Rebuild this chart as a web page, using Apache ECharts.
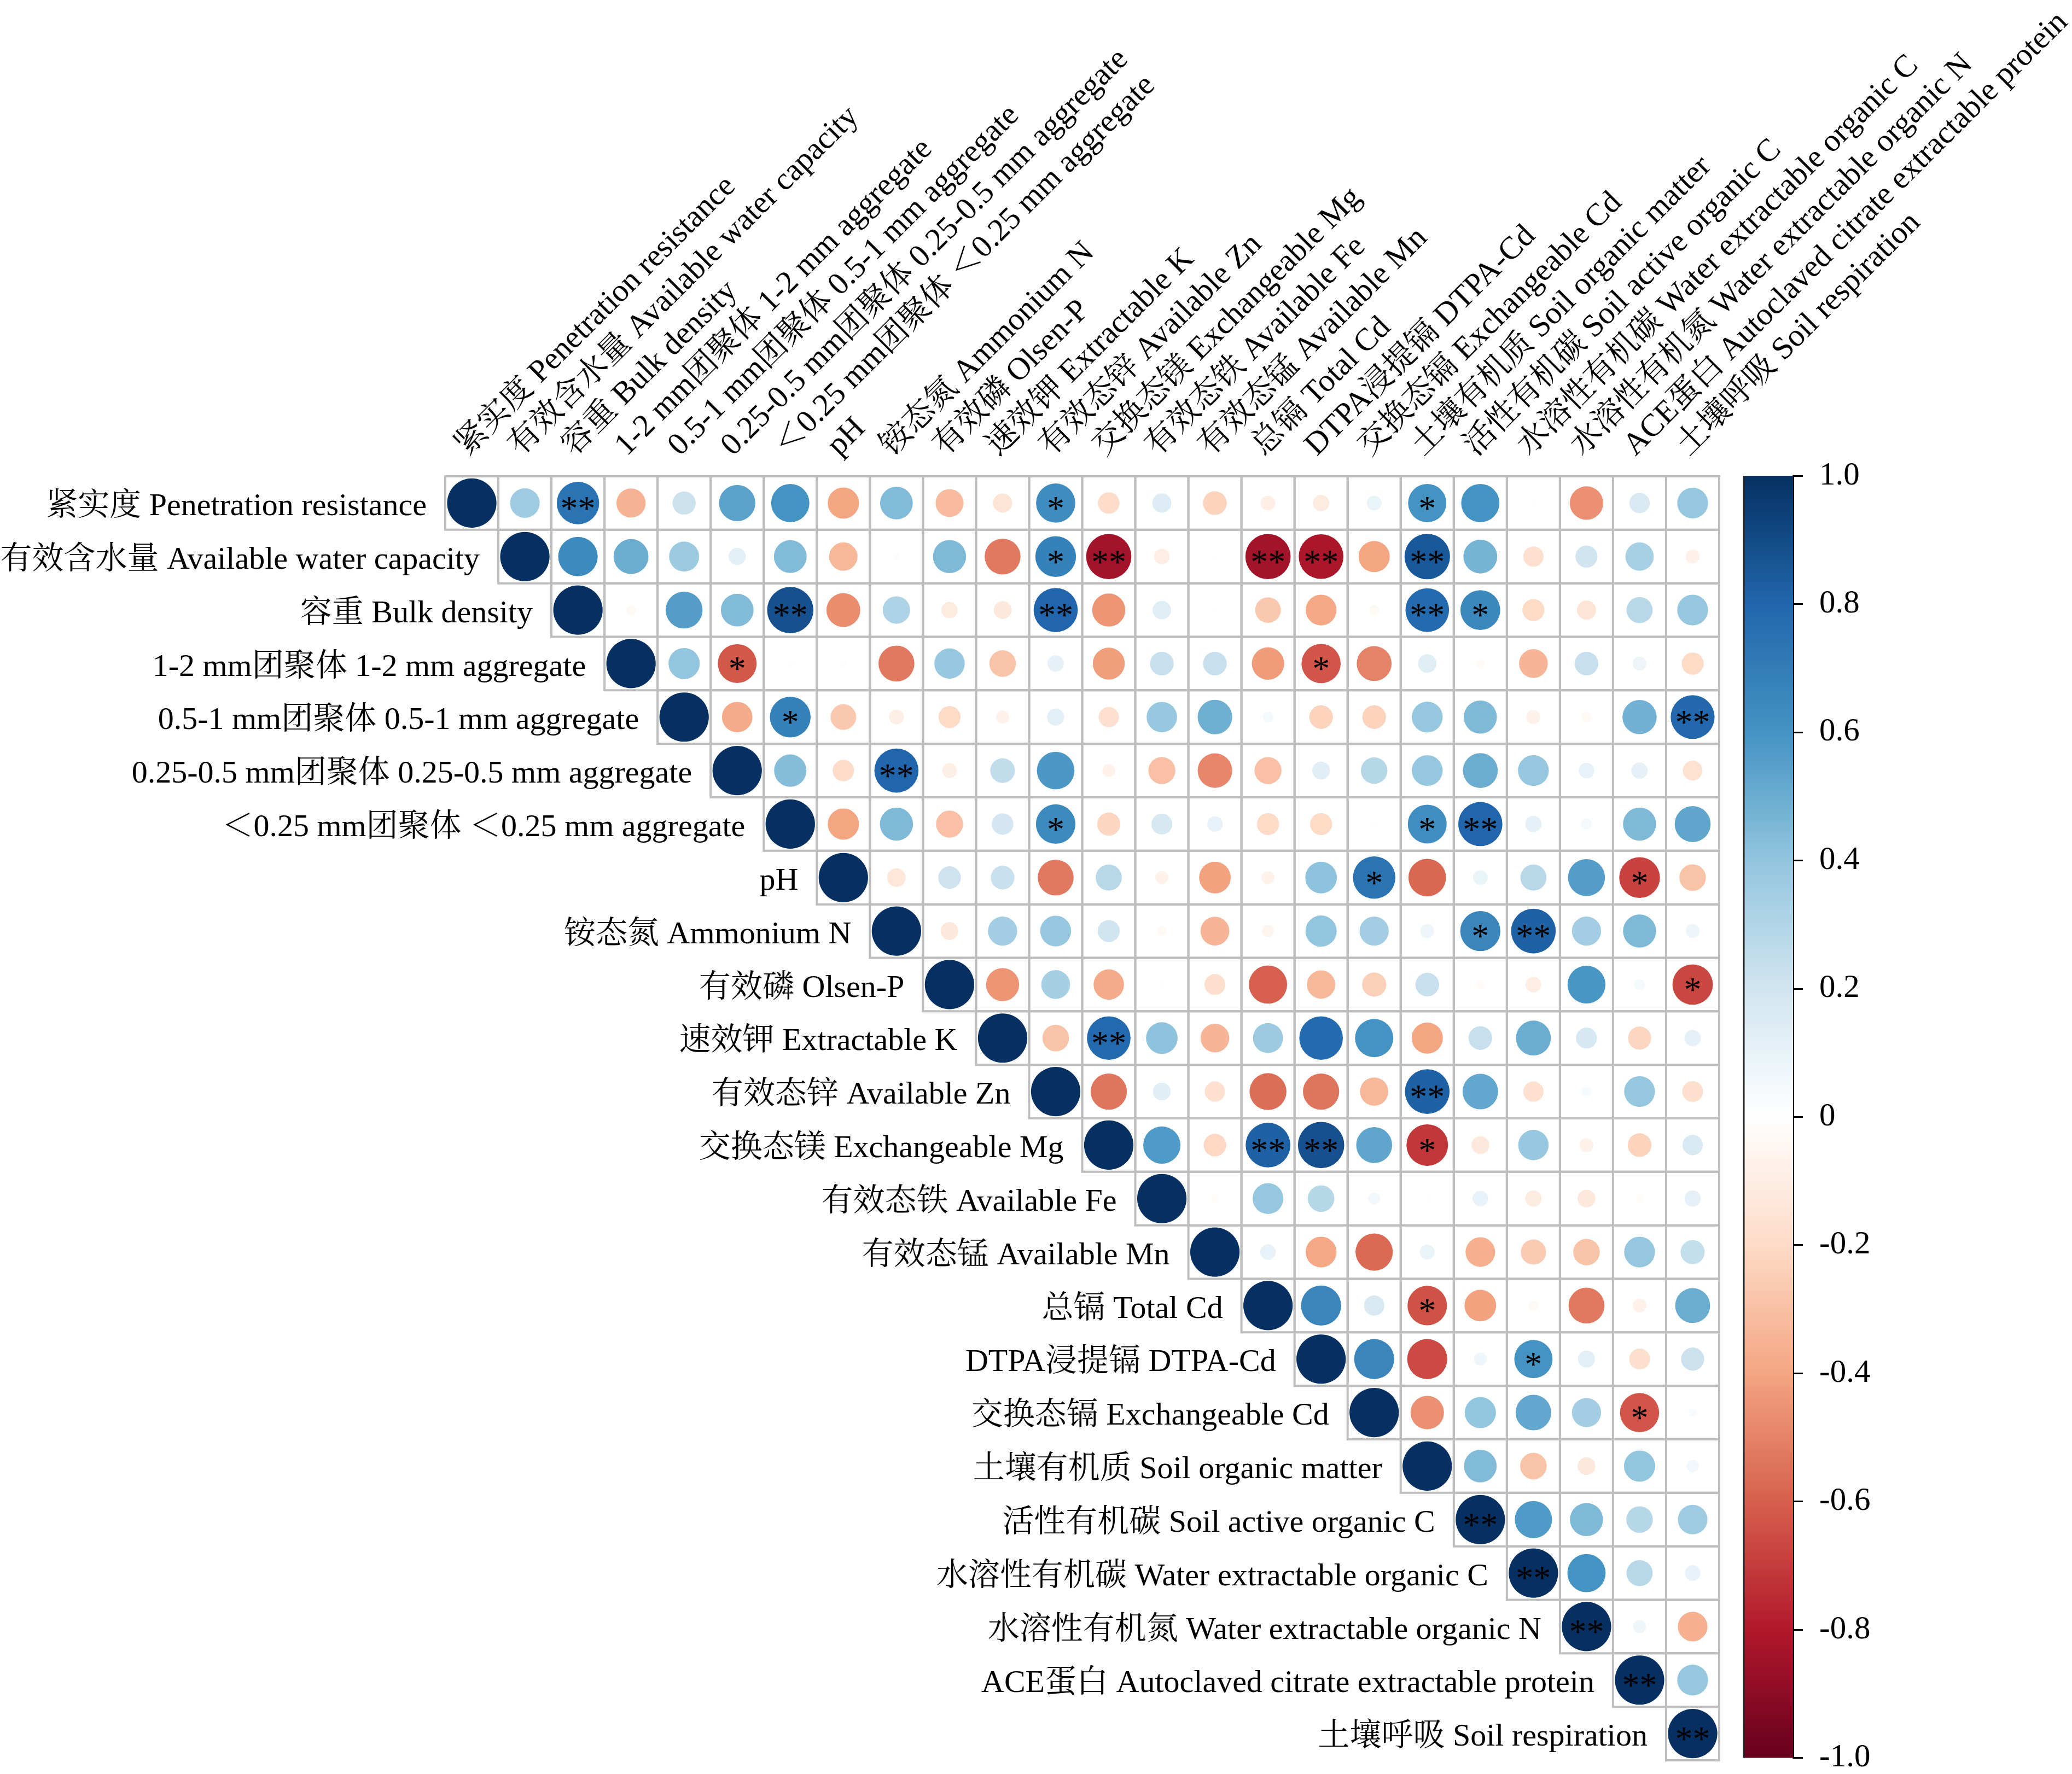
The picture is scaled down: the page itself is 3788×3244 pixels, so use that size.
<!DOCTYPE html>
<html><head><meta charset="utf-8">
<script src="https://cdn.jsdelivr.net/npm/echarts/dist/echarts.min.js"></script>
<style>html,body{margin:0;padding:0;background:#fff}#c{width:3788px;height:3244px}</style>
</head><body><div id="c"></div>
<script>
// ---------------- DATA ----------------
const variables = [
  '紧实度 Penetration resistance',
  '有效含水量 Available water capacity',
  '容重 Bulk density',
  '1-2 mm团聚体 1-2 mm aggregate',
  '0.5-1 mm团聚体 0.5-1 mm aggregate',
  '0.25-0.5 mm团聚体 0.25-0.5 mm aggregate',
  '＜0.25 mm团聚体 ＜0.25 mm aggregate',
  'pH',
  '铵态氮 Ammonium N',
  '有效磷 Olsen-P',
  '速效钾 Extractable K',
  '有效态锌 Available Zn',
  '交换态镁 Exchangeable Mg',
  '有效态铁 Available Fe',
  '有效态锰 Available Mn',
  '总镉 Total Cd',
  'DTPA浸提镉 DTPA-Cd',
  '交换态镉 Exchangeable Cd',
  '土壤有机质 Soil organic matter',
  '活性有机碳 Soil active organic C',
  '水溶性有机碳 Water extractable organic C',
  '水溶性有机氮 Water extractable organic N',
  'ACE蛋白 Autoclaved citrate extractable protein',
  '土壤呼吸 Soil respiration'
];
// upper-triangle correlations: row i lists columns i+1 .. 24
const row01 = [0.36, 0.74, -0.35, 0.22, 0.54, 0.60, -0.40, 0.44, -0.32, -0.15, 0.63, -0.19, 0.15, -0.23, -0.09, -0.11, 0.09, 0.60, 0.60, 0.01, -0.46, 0.17, 0.39];
const row02 = [0.64, 0.50, 0.37, 0.12, 0.44, -0.33, 0.02, 0.45, -0.53, 0.68, -0.84, -0.10, 0.01, -0.84, -0.82, -0.40, 0.85, 0.47, -0.17, 0.20, 0.33, -0.08];
const row03 = [-0.04, 0.56, 0.44, 0.88, -0.47, 0.31, -0.11, -0.13, 0.80, -0.45, 0.14, 0.01, -0.27, -0.39, -0.04, 0.78, 0.65, -0.20, -0.15, 0.28, 0.39];
const row04 = [0.40, -0.62, 0.015, 0.015, -0.53, 0.38, -0.29, 0.11, -0.42, 0.23, 0.23, -0.43, -0.63, -0.50, 0.14, -0.03, -0.34, 0.23, 0.08, -0.20];
const row05 = [-0.38, 0.68, -0.27, -0.09, -0.20, -0.07, 0.12, -0.17, 0.38, 0.49, 0.05, -0.23, -0.23, 0.39, 0.45, -0.08, -0.04, 0.48, 0.79];
const row06 = [0.43, -0.19, 0.80, -0.09, 0.25, 0.58, -0.07, -0.30, -0.49, -0.30, 0.13, 0.29, 0.39, 0.50, 0.39, 0.10, 0.11, -0.16];
const row07 = [-0.40, 0.45, -0.30, 0.19, 0.64, -0.22, 0.18, 0.10, -0.20, -0.20, 0.01, 0.62, 0.80, 0.11, 0.05, 0.45, 0.53];
const row08 = [-0.14, 0.21, 0.23, -0.53, 0.28, -0.07, -0.41, -0.07, 0.41, 0.74, -0.58, 0.09, 0.28, 0.56, -0.68, -0.29];
const row09 = [-0.13, 0.35, 0.39, 0.20, -0.04, -0.34, -0.06, 0.40, 0.35, 0.08, 0.66, 0.82, 0.35, 0.45, 0.08];
const row10 = [-0.45, 0.34, -0.38, 0.01, -0.18, -0.60, -0.33, -0.24, 0.23, -0.03, -0.10, 0.59, 0.05, -0.67];
const row11 = [-0.29, 0.78, 0.41, -0.34, 0.37, 0.78, 0.60, -0.40, 0.23, 0.50, 0.18, -0.22, 0.11];
const row12 = [-0.54, 0.13, -0.17, -0.56, -0.54, -0.33, 0.82, 0.52, -0.17, 0.04, 0.39, -0.18];
const row13 = [0.57, -0.21, 0.82, 0.88, 0.53, -0.71, -0.13, 0.38, -0.08, -0.23, 0.17];
const row14 = [-0.02, 0.39, 0.29, 0.06, 0.01, 0.10, -0.11, -0.13, -0.02, 0.11];
const row15 = [0.10, -0.39, -0.57, 0.09, -0.36, -0.26, -0.29, 0.39, 0.24];
const row16 = [0.66, 0.17, -0.64, -0.41, -0.04, -0.53, -0.08, 0.50];
const row17 = [0.66, -0.66, 0.07, 0.60, 0.12, -0.18, 0.22];
const row18 = [-0.46, 0.40, 0.52, 0.35, -0.63, 0.03];
const row19 = [0.44, -0.29, -0.13, 0.40, 0.06];
const row20 = [0.57, 0.45, 0.29, 0.36];
const row21 = [0.60, 0.28, 0.10];
const row22 = [0.07, -0.36];
const row23 = [0.39];
const row24 = [];
// significance marks: [row, column] (1-based), mark
const significance = [
  [1,3,'**'],[1,12,'*'],[1,19,'*'],
  [2,12,'*'],[2,13,'**'],[2,16,'**'],[2,17,'**'],[2,19,'**'],
  [3,7,'**'],[3,12,'**'],[3,19,'**'],[3,20,'*'],
  [4,6,'*'],[4,17,'*'],
  [5,7,'*'],[5,24,'**'],
  [6,9,'**'],
  [7,12,'*'],[7,19,'*'],[7,20,'**'],
  [8,18,'*'],[8,23,'*'],
  [9,20,'*'],[9,21,'**'],
  [10,24,'*'],
  [11,13,'**'],
  [12,19,'**'],
  [13,16,'**'],[13,17,'**'],[13,19,'*'],
  [16,19,'*'],
  [17,21,'*'],
  [18,23,'*'],
  [20,20,'**'],[21,21,'**'],[22,22,'**'],[23,23,'**'],[24,24,'**']
];
const colorbarTicks = [-1, -0.8, -0.6, -0.4, -0.2, 0, 0.2, 0.4, 0.6, 0.8, 1];

// ---------------- BUILD ----------------
const rows = [row01,row02,row03,row04,row05,row06,row07,row08,row09,row10,row11,row12,
              row13,row14,row15,row16,row17,row18,row19,row20,row21,row22,row23,row24];
const N = variables.length;
const sigMap = {};
significance.forEach(s => { sigMap[(s[0]-1)+'_'+(s[1]-1)] = s[2]; });
const cellData = [];
for (let i = 0; i < N; i++) {
  for (let j = i; j < N; j++) {
    const v = i === j ? 1 : rows[i][j - i - 1];
    cellData.push([j, i, v, sigMap[i+'_'+j] || '']);
  }
}
const RdBu = ['#67001F','#B2182B','#D6604D','#F4A582','#FDDBC7','#FFFFFF','#D1E5F0','#92C5DE','#4393C3','#2166AC','#053061'];
function hex2rgb(h){return [parseInt(h.slice(1,3),16),parseInt(h.slice(3,5),16),parseInt(h.slice(5,7),16)];}
function colorOf(v){
  const t = (Math.max(-1, Math.min(1, v)) + 1) / 2 * 10;
  const i = Math.min(9, Math.floor(t)); const f = t - i;
  const a = hex2rgb(RdBu[i]), b = hex2rgb(RdBu[i+1]);
  const c = a.map((x,k)=>Math.round(x + (b[k]-x)*f));
  return 'rgb('+c.join(',')+')';
}
const FONT = "'Liberation Serif', 'Times New Roman', 'Noto Serif CJK SC', 'Noto Sans CJK SC', serif";
const LABEL_SIZE = 58;

const chart = echarts.init(document.getElementById('c'), null, {renderer:'canvas'});
const catIdx = variables.map((_, k) => k);
const option = {
  backgroundColor: '#fff',
  animation: false,
  grid: [
    {left: 814, top: 871, width: 2329, height: 2348},
    {left: 3188, top: 870, width: 90, height: 2350}
  ],
  xAxis: [
    {type: 'category', data: catIdx, gridIndex: 0, show: false},
    {type: 'value', gridIndex: 1, min: 0, max: 1, show: false}
  ],
  yAxis: [
    {type: 'category', data: catIdx, gridIndex: 0, inverse: true, show: false},
    {type: 'value', gridIndex: 1, min: -1, max: 1, interval: 0.2, position: 'right',
     axisLine: {show: true, onZero: false, lineStyle: {color: '#000', width: 3}},
     axisTick: {show: true, length: 18, lineStyle: {color: '#000', width: 3}},
     splitLine: {show: false},
     axisLabel: {fontSize: 59, fontFamily: FONT, color: '#000', margin: 48,
       formatter: v => Math.abs(v) < 1e-9 ? '0' : v.toFixed(1)}}
  ],
  series: [
    {
      type: 'custom', xAxisIndex: 0, yAxisIndex: 0, data: cellData,
      renderItem: (params, api) => {
        const col = api.value(0), row = api.value(1), v = api.value(2);
        const sig = cellData[params.dataIndex][3];
        const c = api.coord([col, row]); const s = api.size([1, 1]);
        const rr = 0.465 * Math.sqrt(Math.abs(v)) * Math.min(s[0], s[1]);
        const children = [
          {type: 'rect', shape: {x: c[0]-s[0]/2, y: c[1]-s[1]/2, width: s[0], height: s[1]},
           style: {fill: null, stroke: '#BEBEBE', lineWidth: 4}},
          {type: 'circle', shape: {cx: c[0], cy: c[1], r: rr}, style: {fill: colorOf(v)}}
        ];
        if (sig) children.push({type: 'text', x: c[0], y: c[1] + 14,
          style: {text: sig, fill: '#000', fontSize: 64, fontFamily: FONT, align: 'center', verticalAlign: 'middle'}});
        return {type: 'group', children};
      }
    },
    {
      type: 'custom', xAxisIndex: 0, yAxisIndex: 0, data: catIdx.map(k => [k, k]),
      renderItem: (params, api) => {
        const k = api.value(0);
        const s = api.size([1, 1]);
        const top = api.coord([k, 0]);
        const diag = api.coord([k, k]);
        const topY = top[1] - s[1] / 2;
        return {type: 'group', children: [
          {type: 'text', x: top[0] + 2, y: topY - 26, rotation: Math.PI / 4,
           style: {text: variables[k], fill: '#000', fontSize: LABEL_SIZE, fontFamily: FONT, align: 'left', verticalAlign: 'bottom'}},
          {type: 'text', x: diag[0] - s[0] / 2 - 34, y: diag[1] + 7,
           style: {text: variables[k], fill: '#000', fontSize: LABEL_SIZE, fontFamily: FONT, align: 'right', verticalAlign: 'middle'}}
        ]};
      }
    },
    {
      type: 'custom', xAxisIndex: 1, yAxisIndex: 1, data: [[0, 1]],
      renderItem: (params, api) => {
        const p1 = api.coord([0, 1]); const p2 = api.coord([1, -1]);
        const stops = RdBu.map((col, k) => ({offset: 1 - k / 10, color: col})).reverse();
        return {type: 'group', children: [
          {type: 'rect', shape: {x: p1[0], y: p1[1], width: p2[0]-p1[0], height: p2[1]-p1[1]},
           style: {fill: new echarts.graphic.LinearGradient(0, 0, 0, 1, stops)}},
          {type: 'line', shape: {x1: p1[0], y1: p1[1], x2: p1[0], y2: p2[1]}, style: {stroke: '#222', lineWidth: 3}}
        ]};
      }
    }
  ]
};
chart.setOption(option);
</script></body></html>
